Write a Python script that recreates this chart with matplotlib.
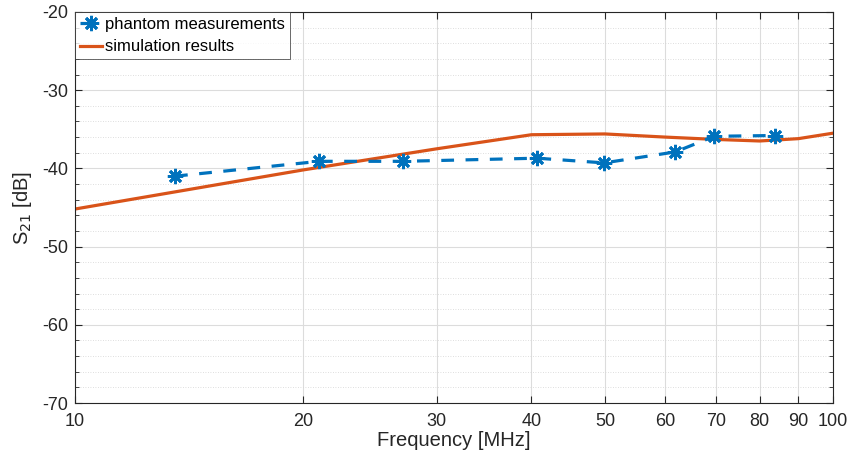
import matplotlib
matplotlib.use("Agg")
import matplotlib.pyplot as plt
from matplotlib.ticker import FixedLocator, MultipleLocator, NullLocator

plt.rcParams['font.family'] = ['Liberation Sans', 'DejaVu Sans']
plt.rcParams['axes.unicode_minus'] = False

meas_freq = [13.55, 21.0, 27.1, 40.7, 49.9, 61.9, 69.7, 83.8]
meas_s21 = [-41.0, -39.1, -39.1, -38.7, -39.3, -37.9, -35.9, -35.8]

sim_freq = [10, 20, 30, 40, 50, 60, 70, 80, 90, 100]
sim_s21 = [-45.2, -40.2, -37.5, -35.7, -35.6, -36.0, -36.3, -36.5, -36.2, -35.5]

x_ticks = [10, 20, 30, 40, 50, 60, 70, 80, 90, 100]
x_tick_labels = ['10', '20', '30', '40', '50', '60', '70', '80', '90', '100']

blue = '#0072BD'
orange = '#D95319'

fig = plt.figure(figsize=(8.49, 4.59), dpi=100)
ax = fig.add_axes([0.0883, 0.122, 0.893, 0.852])

ax.plot(meas_freq, meas_s21, linestyle=(0, (4, 3.6)), color=blue, linewidth=2.3,
        marker=(8, 2, 0), markersize=11, markeredgewidth=2.0, markeredgecolor=blue,
        label='phantom measurements', zorder=3)
ax.plot(sim_freq, sim_s21, color=orange, linewidth=2.3, label='simulation results', zorder=2)

ax.set_xscale('log')
ax.set_xlim(10, 100)
ax.set_ylim(-70, -20)
ax.xaxis.set_major_locator(FixedLocator(x_ticks))
ax.xaxis.set_minor_locator(NullLocator())
ax.set_xticklabels(x_tick_labels)
ax.yaxis.set_major_locator(MultipleLocator(10))
ax.yaxis.set_minor_locator(MultipleLocator(2))

ax.grid(True, which='major', color='#dcdcdc', linewidth=0.8, linestyle='-')
ax.grid(True, which='minor', axis='y', color='#d4d4d4', linewidth=0.6, linestyle=(0, (1, 2)))
ax.set_axisbelow(True)

for s in ax.spines.values():
    s.set_color('#262626')
    s.set_linewidth(0.8)

ax.tick_params(axis='both', which='both', direction='in', top=True, right=True,
               colors='#262626', labelcolor='#262626', labelsize=13)
ax.tick_params(axis='both', which='major', length=5)
ax.tick_params(axis='both', which='minor', length=3)
ax.tick_params(axis='x', pad=7)
ax.tick_params(axis='y', pad=5)

ax.set_xlabel('Frequency [MHz]', fontsize=14.5, color='#262626', labelpad=1)
ax.set_ylabel('S$_{21}$ [dB]', fontsize=14.5, color='#262626', labelpad=6)

leg = ax.legend(loc='upper left', bbox_to_anchor=(0.0, 1.0), fontsize=12, frameon=True,
                fancybox=False, edgecolor='#262626', borderaxespad=0.0, handlelength=1.3,
                handletextpad=0.2, borderpad=0.3, labelspacing=0.45)
leg.get_frame().set_linewidth(0.6)

fig.savefig('out.png', dpi=100)
